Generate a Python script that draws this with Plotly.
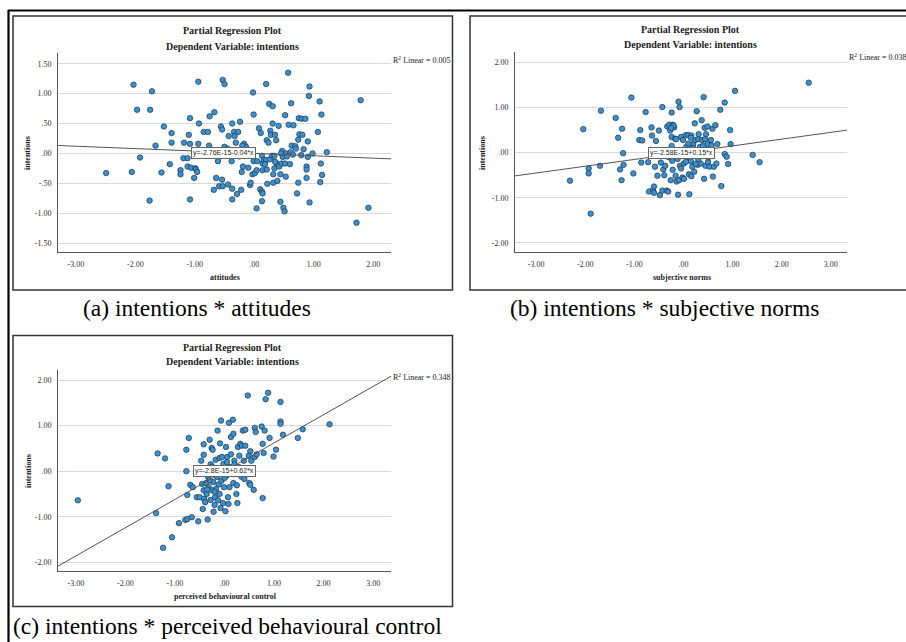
import plotly.graph_objects as go

# ---------------- data ----------------
att_x = [-2.49,-2.06,-2.03,-1.97,-1.92,-1.75,-1.72,-1.76,-1.66,-1.56,-1.52,-1.42,-1.39,-1.39,-1.24,-1.24,-1.18,-1.19,-1.12,-1.12,
         -1.10,-1.08,-1.08,-1.08,-1.06,-1.01,-0.99,-0.98,-0.96,-0.94,-0.93,-0.94,-0.85,-0.78,-0.75,-0.76,-0.67,-0.68,-0.64,-0.61,
         -0.59,-0.56,-0.54,-0.54,-0.53,-0.53,-0.50,-0.50,-0.43,-0.44,-0.38,-0.37,-0.37,-0.37,-0.34,-0.33,-0.31,-0.29,-0.27,-0.24,
         -0.22,-0.21,-0.19,-0.17,-0.14,-0.10,-0.07,-0.06,-0.03,-0.02,-0.01,-0.01,0.01,0.04,0.04,0.08,0.11,0.10,0.13,0.13,
         0.14,0.13,0.14,0.14,0.16,0.20,0.20,0.21,0.21,0.22,0.24,0.25,0.26,0.27,0.28,0.30,0.31,0.31,0.32,0.32,
         0.34,0.34,0.35,0.37,0.38,0.39,0.41,0.42,0.44,0.44,0.46,0.47,0.48,0.49,0.51,0.52,0.52,0.53,0.54,0.57,
         0.58,0.60,0.61,0.62,0.63,0.66,0.69,0.72,0.74,0.74,0.75,0.76,0.79,0.80,0.81,0.83,0.86,0.88,0.88,0.88,
         0.90,0.90,0.92,0.93,0.93,0.98,1.07,1.10,1.11,1.12,1.13,1.14,1.22,1.72,1.79,1.92,
         0.05,0.18,0.35,0.45,0.55,0.65,0.70,-0.25,-0.45,-0.20,-0.08]
att_y = [-0.33,-0.31,1.15,0.73,-0.07,0.73,1.04,-0.79,0.13,-0.32,0.45,-0.18,0.34,0.18,-0.28,-0.35,0.18,-0.08,-0.08,-0.22,
         0.31,0.59,-0.77,0.16,-0.24,-0.41,-0.25,-0.27,-0.31,1.20,0.50,0.16,0.36,0.36,0.62,0.13,0.69,-0.61,-0.41,-0.13,
         -0.55,0.45,0.40,-0.44,-0.55,1.23,1.16,0.11,0.29,-0.52,-0.13,0.50,-0.77,-0.59,0.36,0.29,0.18,-0.68,0.36,0.53,
         -0.61,-0.31,-0.22,0.16,0.11,-0.24,-0.53,-0.49,-0.35,1.02,0.65,-0.13,-0.33,-0.92,-0.28,0.42,0.34,-0.60,-0.64,-0.80,
         -0.67,-0.04,-0.17,-0.28,-0.11,-0.11,1.16,0.22,-0.27,-0.51,0.18,0.83,-0.10,0.38,0.31,-0.04,0.79,0.50,-0.49,-0.35,
         -0.04,-0.25,0.31,0.22,-0.17,-0.46,0.46,-0.22,-0.35,-0.81,-0.17,0.04,-0.06,-0.91,-0.97,0.64,-0.17,-0.39,0.00,1.35,
         0.48,-0.18,0.02,0.84,0.13,0.47,0.12,-0.67,-0.49,0.23,0.59,0.32,-0.03,0.58,0.31,0.07,0.58,-0.41,-0.22,-0.27,
         0.20,-0.06,0.96,1.12,-0.82,0.00,0.36,0.87,-0.48,-0.17,0.65,-0.36,0.02,-1.16,0.89,-0.91,
         -0.13,-0.18,-0.14,0.00,-0.05,-0.02,0.08,-0.05,0.08,0.13,-0.03]

sn_x = [-2.31,-2.04,-1.93,-1.93,-1.89,-1.70,-1.68,-1.38,-1.33,-1.29,-1.26,-1.25,-1.23,-1.22,-1.06,-1.02,-0.90,-0.88,-0.86,-0.84,
        -0.77,-0.72,-0.70,-0.65,-0.64,-0.62,-0.60,-0.60,-0.58,-0.56,-0.53,-0.50,-0.48,-0.46,-0.43,-0.43,-0.41,-0.39,-0.37,-0.34,
        -0.33,-0.31,-0.29,-0.27,-0.26,-0.24,-0.24,-0.24,-0.23,-0.22,-0.22,-0.19,-0.18,-0.17,-0.16,-0.14,-0.12,-0.11,-0.10,-0.09,
        -0.08,-0.07,-0.05,-0.05,-0.02,-0.01,0.01,0.01,0.05,0.06,0.08,0.10,0.11,0.12,0.14,0.15,0.16,0.16,0.18,0.18,
        0.20,0.22,0.23,0.24,0.26,0.27,0.29,0.30,0.31,0.32,0.34,0.35,0.37,0.38,0.39,0.41,0.42,0.43,0.44,0.45,
        0.46,0.49,0.49,0.50,0.52,0.53,0.56,0.57,0.59,0.60,0.62,0.65,0.67,0.69,0.75,0.77,0.84,0.84,0.88,0.91,
        0.95,0.96,1.05,1.41,1.55,2.55,
        -0.20,-0.25,0.00,0.05,0.10,-0.15,0.20,0.30,-0.05,0.15,0.40,0.25,-0.30,-0.10,0.50]
sn_y = [-0.62,0.52,-0.35,-0.46,-1.35,-0.29,0.93,0.77,0.33,-0.37,-0.61,0.53,-0.01,-0.27,1.22,-0.46,0.28,0.50,-0.22,0.27,
        0.90,-0.21,-0.86,0.56,0.38,-0.83,-0.75,-0.89,-0.31,0.26,-0.51,0.49,-0.94,-0.22,1.01,-0.84,-0.37,-0.50,-0.29,-0.84,
        0.58,-0.86,0.62,0.49,-0.61,0.15,0.89,0.35,-0.18,-0.38,0.62,0.56,-0.02,0.31,-0.51,-0.64,-0.14,-0.93,1.13,-0.61,
        1.01,-0.29,0.35,-0.07,-0.55,0.28,-0.24,-0.58,0.39,0.13,-0.09,0.39,-0.48,-0.92,0.13,-0.19,-0.52,0.38,-0.31,-0.01,
        0.19,-0.42,0.65,0.28,0.02,0.92,-0.27,0.30,0.41,-0.09,0.13,-0.24,0.72,0.28,0.00,1.23,-0.58,0.55,0.30,-0.29,
        0.41,0.58,0.19,-0.21,-0.09,-0.31,0.28,0.16,0.53,-0.53,-0.31,0.61,-0.24,0.19,0.95,-0.74,1.11,-0.03,-0.09,-0.25,
        0.50,0.19,1.37,-0.05,-0.21,1.55,
        0.60,0.55,0.00,-0.20,0.20,0.30,0.10,-0.15,-0.35,0.33,0.15,-0.25,-0.10,0.05,-0.10]

pbc_x = [-2.96,-1.38,-1.35,-1.20,-1.24,-1.13,-1.06,-0.92,-0.79,-0.75,-0.77,-0.77,-0.75,-0.72,-0.69,-0.66,-0.64,-0.56,-0.53,-0.50,
         -0.47,-0.45,-0.44,-0.42,-0.42,-0.42,-0.41,-0.39,-0.37,-0.36,-0.34,-0.33,-0.32,-0.30,-0.28,-0.28,-0.26,-0.25,-0.24,-0.23,
         -0.22,-0.20,-0.19,-0.18,-0.17,-0.15,-0.14,-0.13,-0.12,-0.10,-0.10,-0.09,-0.08,-0.07,-0.06,-0.05,-0.03,-0.02,-0.01,0.02,
         0.03,0.04,0.05,0.07,0.08,0.09,0.10,0.11,0.13,0.13,0.17,0.18,0.18,0.20,0.22,0.24,0.25,0.26,0.27,0.29,
         0.30,0.32,0.34,0.35,0.37,0.39,0.40,0.42,0.42,0.44,0.47,0.49,0.50,0.52,0.52,0.54,0.59,0.61,0.61,0.63,
         0.65,0.75,0.77,0.77,0.79,0.81,0.83,0.88,0.91,0.99,1.04,1.13,1.13,1.13,1.18,1.48,1.58,2.12,
         -0.30,-0.20,-0.10,0.00,0.15,0.05,-0.35,-0.25,0.30,0.20]
pbc_y = [-0.64,-0.92,0.39,0.28,-1.68,-0.33,-1.45,-1.14,-1.07,-1.05,0.00,0.47,-0.52,0.73,-0.30,-1.01,-0.35,-0.57,-1.10,-0.57,
         0.23,-0.28,-0.83,-0.42,0.59,0.36,-0.61,-0.68,-0.26,-0.50,-1.06,-0.13,-0.35,0.69,0.15,-0.63,0.51,-0.42,0.47,-0.24,
         -0.89,-0.74,-0.57,0.25,-0.39,-0.13,0.89,-0.64,-0.29,0.29,-0.50,0.61,-0.81,1.11,-0.21,0.31,-0.70,0.16,-0.35,-0.88,
         0.53,-0.10,0.31,-0.57,-0.72,1.06,-0.35,0.09,0.75,0.37,1.13,0.82,-0.26,0.23,-0.04,-0.50,-0.31,-0.70,0.53,0.09,
         0.34,0.60,-0.12,0.56,0.89,0.23,-0.17,0.91,0.56,0.05,1.66,0.34,-0.26,0.44,-0.30,0.23,-0.41,0.31,0.95,0.86,
         0.37,0.98,-0.59,0.60,0.40,0.89,1.58,1.72,0.73,0.32,0.47,1.52,1.09,1.04,0.80,0.73,0.92,1.03,
         -0.20,-0.45,0.00,-0.15,0.05,0.20,-0.40,0.10,-0.05,0.15]

intercepts = [0.0, 0.0, 0.0]
slopes = [-0.04, 0.15, 0.62]
r2_labels = ["0.005", "0.038", "0.348"]
equations = ["y=-2.76E-15-0.04*x", "y=-2.58E-15+0.15*x", "y=-2.8E-15+0.62*x"]
x_titles = ["attitudes", "subjective norms", "perceived behavioural control"]
captions = ["(a) intentions * attitudes", "(b) intentions * subjective norms",
            "(c) intentions * perceived behavioural control"]

xtick_vals_a = [-3, -2, -1, 0, 1, 2]
xtick_text_a = ["-3.00", "-2.00", "-1.00", ".00", "1.00", "2.00"]
xtick_vals_bc = [-3, -2, -1, 0, 1, 2, 3]
xtick_text_bc = ["-3.00", "-2.00", "-1.00", ".00", "1.00", "2.00", "3.00"]
ytick_vals_a = [-1.5, -1.0, -0.5, 0, 0.5, 1.0, 1.5]
ytick_text_a = ["-1.50", "-1.00", "-.50", ".00", ".50", "1.00", "1.50"]
ytick_vals_bc = [-2, -1, 0, 1, 2]
ytick_text_bc = ["-2.00", "-1.00", ".00", "1.00", "2.00"]

# ---------------- layout helpers ----------------
W, H = 906, 642
def px(x): return x / W
def py(y): return 1 - y / H

SERIF = "Liberation Serif, Times New Roman, serif"
SANS = "Liberation Sans, Arial, sans-serif"
MARKER = dict(size=5.5, color="#3b91d0", line=dict(color="#1b3347", width=0.7))

# plot areas in pixels: (left, top, right, bottom)
areas = [(58, 53, 391, 252), (515, 52, 847, 252), (58, 370, 391, 571)]
xranges = [(-3.30, 2.30), (-3.43, 3.33), (-3.36, 3.36)]
yranges = [(-1.65, 1.68), (-2.20, 2.23), (-2.19, 2.22)]
xdata = [att_x, sn_x, pbc_x]
ydata = [att_y, sn_y, pbc_y]
xticks = [(xtick_vals_a, xtick_text_a), (xtick_vals_bc, xtick_text_bc), (xtick_vals_bc, xtick_text_bc)]
yticks = [(ytick_vals_a, ytick_text_a), (ytick_vals_bc, ytick_text_bc), (ytick_vals_bc, ytick_text_bc)]
eq_x = [-0.52, -0.04, -0.01]
title_pos = [(233, 31, 47), (690, 29.5, 45), (233, 348, 362)]
ytitle_pos = [(28, 153), (483, 153), (28, 471)]
xtitle_pos = [(225, 277), (682, 277), (225, 596)]
r2_y = [60, 57, 377]

TICKFONT = dict(family=SERIF, size=8, color="#333333")

def ann(text, x, y, size, xanchor="center", bold=False, angle=0, color="#222222", family=SERIF):
    return dict(text=("<b>" + text + "</b>") if bold else text, x=px(x), y=py(y), xref="paper", yref="paper",
                xanchor=xanchor, yanchor="middle", showarrow=False, textangle=angle,
                font=dict(family=family, size=size, color=color))

fig = go.Figure()
annotations = []
for i in range(3):
    sx = "" if i == 0 else str(i + 1)
    L, T, R, B = areas[i]
    fig.add_trace(go.Scatter(x=xdata[i], y=ydata[i], mode="markers", marker=MARKER,
                             xaxis="x" + sx, yaxis="y" + sx, showlegend=False, hoverinfo="x+y"))
    x0, x1 = xranges[i]
    fig.add_trace(go.Scatter(x=[x0, x1], y=[intercepts[i] + slopes[i] * x0, intercepts[i] + slopes[i] * x1],
                             mode="lines", line=dict(color="#555555", width=1),
                             xaxis="x" + sx, yaxis="y" + sx, showlegend=False, hoverinfo="skip"))
    fig.update_layout(**{
        "xaxis" + sx: dict(domain=[px(L), px(R)], range=list(xranges[i]), anchor="y" + sx,
                           tickvals=xticks[i][0], ticktext=xticks[i][1], showgrid=False, zeroline=False,
                           showline=True, linecolor="#555555", linewidth=1, ticks="",
                           ticklabelstandoff=4, tickfont=TICKFONT),
        "yaxis" + sx: dict(domain=[py(B), py(T)], range=list(yranges[i]), anchor="x" + sx,
                           tickvals=yticks[i][0], ticktext=yticks[i][1], showgrid=True, gridcolor="#d9d9d9",
                           gridwidth=1, zeroline=False, showline=True, linecolor="#555555", linewidth=1,
                           ticks="", ticklabelstandoff=4, tickfont=TICKFONT),
    })
    tx, ty1, ty2 = title_pos[i]
    annotations += [
        ann("Partial Regression Plot", tx, ty1, 10, bold=True),
        ann("Dependent Variable: intentions", tx, ty2, 10, bold=True),
        ann("intentions", ytitle_pos[i][0], ytitle_pos[i][1], 8, bold=True, angle=-90),
        ann(x_titles[i], xtitle_pos[i][0], xtitle_pos[i][1], 8, bold=True),
        ann("R<sup>2</sup> Linear = " + r2_labels[i], R, r2_y[i], 8, xanchor="left"),
        dict(text=equations[i], x=eq_x[i], y=0, xref="x" + sx, yref="y" + sx, showarrow=False,
             xanchor="center", yanchor="middle",
             bgcolor="white", bordercolor="#666666", borderwidth=1, borderpad=1,
             font=dict(family=SANS, size=7, color="#222")),
    ]

# captions
annotations += [
    ann(captions[0], 197, 308, 23.5, color="black"),
    ann(captions[1], 664, 308, 23.5, color="black"),
    ann(captions[2], 11, 626, 23.5, xanchor="left", color="black"),
]

def rect(x0, y0, x1, y1, color="#333333", width=1.5):
    return dict(type="rect", xref="paper", yref="paper", x0=px(x0), x1=px(x1), y0=py(y1), y1=py(y0),
                line=dict(color=color, width=width), fillcolor="rgba(0,0,0,0)", layer="above")

def line(x0, y0, x1, y1, color="black", width=2.2):
    return dict(type="line", xref="paper", yref="paper", x0=px(x0), x1=px(x1), y0=py(y0), y1=py(y1),
                line=dict(color=color, width=width), layer="above")

shapes = [
    line(8, 10.5, 906, 10.5),
    line(8.5, 10, 8.5, 642),
    rect(13, 16, 452.5, 290),
    rect(470, 16, 920, 290),
    rect(13, 335.5, 452.5, 606.5),
]

fig.update_layout(width=W, height=H, autosize=False, margin=dict(l=0, r=0, t=0, b=0),
                  paper_bgcolor="white", plot_bgcolor="white", annotations=annotations, shapes=shapes)

fig.write_html("out.html", post_script="document.body.style.margin='0';document.body.style.overflow='hidden';")
